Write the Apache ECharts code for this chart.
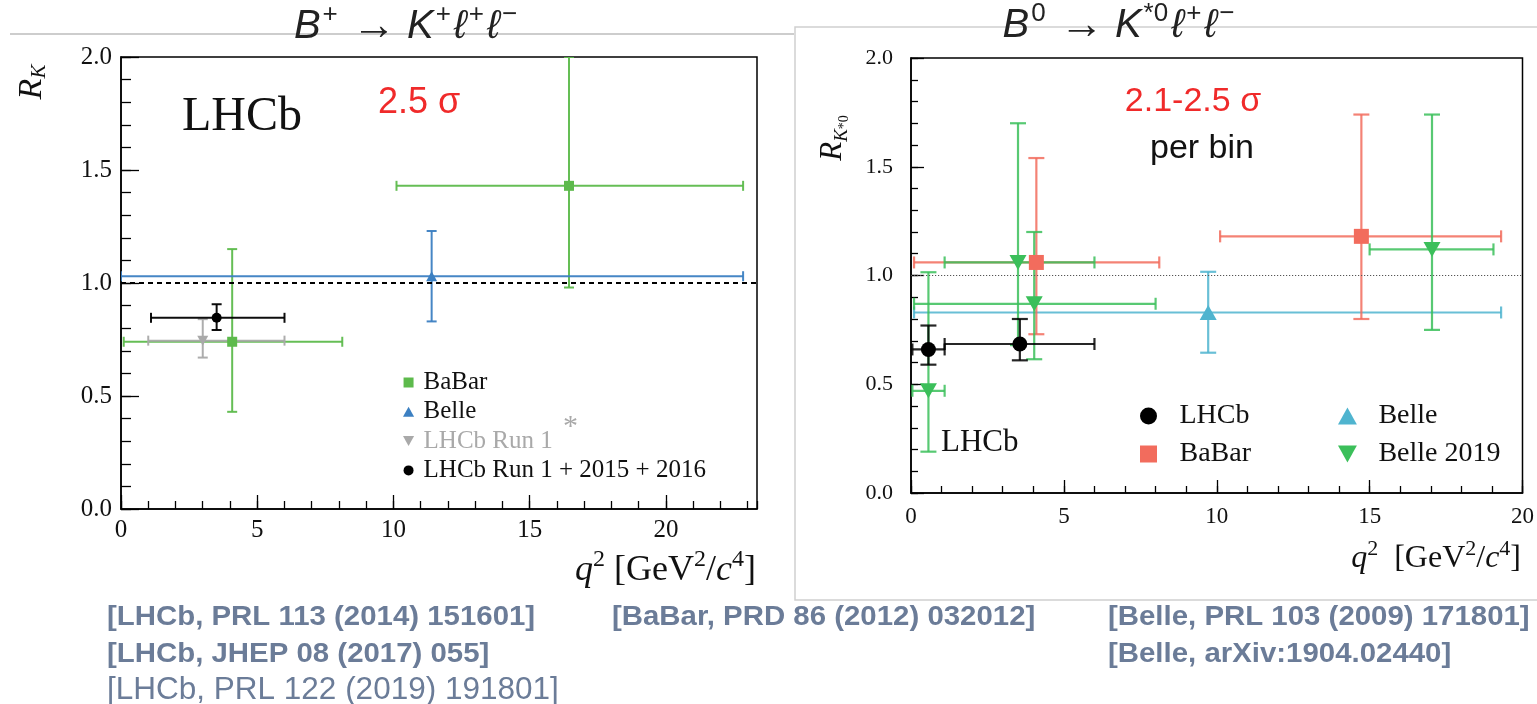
<!DOCTYPE html>
<html>
<head>
<meta charset="utf-8">
<script src="https://cdn.jsdelivr.net/npm/echarts@6/dist/echarts.min.js"></script>
<style>
  html, body { margin: 0; padding: 0; background: #ffffff; }
  #chart { width: 1537px; height: 704px; }
</style>
</head>
<body>
<div id="chart"></div>
<script>
// Each row: [q2, q2 low edge, q2 high edge, R, R lower bound, R upper bound]

// B+ -> K+ l+ l-  (R_K)
const rkBaBar   = [[4.08, 0.1, 8.12, 0.74, 0.43, 1.15], [16.44, 10.11, 22.83, 1.43, 0.98, 2.0]];
const rkBelle   = [[11.4, 0.0, 22.83, 1.03, 0.83, 1.23]];
const rkRun1    = [[3.0, 1.0, 6.0, 0.745, 0.67, 0.84]];
const rkRun1516 = [[3.51, 1.1, 6.0, 0.846, 0.792, 0.906]];

// B0 -> K*0 l+ l-  (R_K*0)
const rksLHCb      = [[0.57, 0.045, 1.1, 0.66, 0.59, 0.77], [3.56, 1.1, 6.0, 0.685, 0.61, 0.80]];
const rksBaBar     = [[4.1, 0.1, 8.12, 1.06, 0.73, 1.54], [14.73, 10.11, 19.3, 1.18, 0.80, 1.74]];
const rksBelle     = [[9.72, 0.1, 19.3, 0.83, 0.645, 1.017]];
const rksBelle2019 = [[0.57, 0.045, 1.1, 0.47, 0.19, 1.015], [3.5, 1.1, 6.0, 1.06, 0.68, 1.70],
                      [4.03, 0.1, 8.0, 0.87, 0.615, 1.20], [17.04, 15.0, 19.05, 1.12, 0.75, 1.74]];

// Axis ranges and tick labels
const rkQ2Max = 23.34;
const rksQ2Max = 20;
const ratioTicks = ['0.0', '0.5', '1.0', '1.5', '2.0'];
const q2Ticks = ['0', '5', '10', '15', '20'];

// Reference lines: text, x, y, weight, size, horizontal stretch
const references = [
  ['[LHCb, PRL 113 (2014) 151601]', 107, 617, 'bold', 28, 1.05],
  ['[LHCb, JHEP 08 (2017) 055]', 107, 654, 'bold', 28, 1.05],
  ['[LHCb, PRL 122 (2019) 191801]', 107, 690, 'normal', 31.5, 1],
  ['[BaBar, PRD 86 (2012) 032012]', 612, 617, 'bold', 28, 1.05],
  ['[Belle, PRL 103 (2009) 171801]', 1108, 617, 'bold', 28, 1.05],
  ['[Belle, arXiv:1904.02440]', 1108, 654, 'bold', 28, 1.05]
];

const SERIF = '"Liberation Serif", "DejaVu Serif", serif';
const SANS = '"Liberation Sans", "DejaVu Sans", sans-serif';
const squareSym = 'path://M0,0 L10,0 L10,10 L0,10 Z';
const upTri = 'path://M5,0 L10,9 L0,9 Z';
const downTri = 'path://M0,0 L10,0 L5,9 Z';

function errorBars(data, color, xi, yi, o) {
  return {
    type: 'custom', xAxisIndex: xi, yAxisIndex: yi, clip: true, silent: true,
    itemStyle: { color: color }, data: data, z: 2,
    encode: { x: [0, 1, 2], y: [3, 4, 5] },
    renderItem: function (params, api) {
      const q = api.value(0), r = api.value(3);
      const a = api.coord([api.value(1), r]), b = api.coord([api.value(2), r]);
      const lo = api.coord([q, api.value(4)]), hi = api.coord([q, api.value(5)]);
      const st = { stroke: color, lineWidth: o.w, opacity: o.op };
      const ln = (x1, y1, x2, y2) => ({ type: 'line', shape: { x1, y1, x2, y2 }, style: st });
      return {
        type: 'group', children: [
          ln(a[0], a[1], b[0], b[1]),
          ln(a[0], a[1] - o.capH, a[0], a[1] + o.capH),
          ln(b[0], b[1] - o.capH, b[0], b[1] + o.capH),
          ln(lo[0], lo[1], hi[0], hi[1]),
          ln(lo[0] - o.capV, lo[1], lo[0] + o.capV, lo[1]),
          ln(hi[0] - o.capV, hi[1], hi[0] + o.capV, hi[1])
        ]
      };
    }
  };
}

function markers(name, data, color, xi, yi, symbol, size) {
  return {
    type: 'scatter', name: name, xAxisIndex: xi, yAxisIndex: yi, silent: true, z: 3,
    symbol: symbol, symbolSize: size, itemStyle: { color: color, opacity: 1 },
    data: data.map(d => [d[0], d[3]])
  };
}

const leftBar = { w: 2, op: 0.95, capH: 5, capV: 5 };
const rightBar = { w: 2.2, op: 0.85, capH: 6, capV: 8 };

const C = {
  kBaBar: '#5dba4c', kBelle: '#3c80c2', kRun1: '#a9a9a9', kRun1516: '#000000',
  sLHCb: '#000000', sBaBar: '#f26c5d', sBelle: '#4fb4cf', sBelle19: '#3bbf5a'
};

function valueAxis(grid, min, max, interval, tickLen, showLabel, pos, labelOpt, labels) {
  return {
    type: 'value', gridIndex: grid, min: min, max: max, interval: interval, position: pos,
    axisLine: { show: showLabel, lineStyle: { color: '#000', width: 1.5 } },
    axisTick: { show: true, inside: true, length: tickLen, lineStyle: { color: '#000', width: 1.3 } },
    splitLine: { show: false },
    axisLabel: Object.assign({
      show: showLabel, showMaxLabel: max === rkQ2Max ? false : true, color: '#111',
      formatter: function (v) {
        const s = labels === ratioTicks ? v.toFixed(1) : String(Math.round(v));
        return labels.indexOf(s) >= 0 ? s : '';
      }
    }, labelOpt)
  };
}

const supTitle = {
  i: { fontFamily: SANS, fontStyle: 'italic', fontSize: 40, lineHeight: 50, fill: '#222' },
  n: { fontFamily: SANS, fontSize: 40, lineHeight: 50, fill: '#222' },
  a: { fontFamily: SANS, fontSize: 44, lineHeight: 50, fill: '#222' },
  s: { fontFamily: SANS, fontSize: 26, lineHeight: 29, verticalAlign: 'top', fill: '#222', padding: [0, 3, 0, 2] }
};
function q2Rich(size) {
  const s = Math.round(size * 0.68);
  return {
    i: { fontFamily: SERIF, fontStyle: 'italic', fontSize: size, lineHeight: size + 10, fill: '#111' },
    n: { fontFamily: SERIF, fontSize: size, lineHeight: size + 10, fill: '#111' },
    s: { fontFamily: SERIF, fontSize: s, lineHeight: s + 4, verticalAlign: 'top', fill: '#111' }
  };
}

const graphics = [
  // panel frames
  { type: 'line', shape: { x1: 10, y1: 34, x2: 794, y2: 34 }, style: { stroke: '#bdbdbd', lineWidth: 1.5 }, z: -5 },
  { type: 'rect', shape: { x: 795, y: 27, width: 760, height: 573 }, style: { fill: 'none', stroke: '#d0d0d0', lineWidth: 1.5 }, z: -5 },
  // titles
  { type: 'text', x: 407, y: 27, style: { text: '{i|B}{s|+}{n| }{a|→}{n| }{i|K}{s|+}{i|ℓ}{s|+}{i|ℓ}{s|−}', rich: supTitle, align: 'center', verticalAlign: 'middle' } },
  { type: 'text', x: 1120, y: 26, style: { text: '{i|B}{s|0}{n| }{a|→}{n| }{i|K}{s|*0}{i|ℓ}{s|+}{i|ℓ}{s|−}', rich: supTitle, align: 'center', verticalAlign: 'middle' } },
  // y-axis names
  { type: 'text', x: 32, y: 82, rotation: Math.PI / 2, style: {
      text: '{r|R}{k|K}', align: 'center', verticalAlign: 'middle',
      rich: { r: { fontFamily: SERIF, fontStyle: 'italic', fontSize: 34, lineHeight: 36, fill: '#111' },
              k: { fontFamily: SERIF, fontStyle: 'italic', fontSize: 21, lineHeight: 21, verticalAlign: 'bottom', fill: '#111' } } } },
  { type: 'text', x: 833, y: 138, rotation: Math.PI / 2, style: {
      text: '{r|R}{k|K}{p|*0}', align: 'center', verticalAlign: 'middle',
      rich: { r: { fontFamily: SERIF, fontStyle: 'italic', fontSize: 31, lineHeight: 36, fill: '#111' },
              k: { fontFamily: SERIF, fontStyle: 'italic', fontSize: 19, lineHeight: 16, verticalAlign: 'bottom', fill: '#111' },
              p: { fontFamily: SERIF, fontSize: 14, lineHeight: 24, verticalAlign: 'bottom', fill: '#111' } } } },
  // x-axis names
  { type: 'text', x: 756, y: 571, style: { text: '{i|q}{s|2}{n| [GeV}{s|2}{n|/}{i|c}{s|4}{n|]}', rich: q2Rich(36), align: 'right', verticalAlign: 'middle' } },
  { type: 'text', x: 1521, y: 559, style: { text: '{i|q}{s|2}{n|  [GeV}{s|2}{n|/}{i|c}{s|4}{n|]}', rich: q2Rich(32), align: 'right', verticalAlign: 'middle' } },
  // annotations
  { type: 'text', x: 182, y: 117, style: { text: 'LHCb', font: '48px ' + SERIF, fill: '#111', verticalAlign: 'middle' } },
  { type: 'text', x: 378, y: 103, style: { text: '2.5 σ', font: '36px ' + SANS, fill: '#f02a2a', verticalAlign: 'middle' } },
  { type: 'text', x: 1193, y: 102, style: { text: '2.1-2.5 σ', font: '34px ' + SANS, fill: '#f02a2a', align: 'center', verticalAlign: 'middle' } },
  { type: 'text', x: 1202, y: 149, style: { text: 'per bin', font: '34px ' + SANS, fill: '#111', align: 'center', verticalAlign: 'middle' } },
  { type: 'text', x: 941, y: 443, style: { text: 'LHCb', font: '31px ' + SERIF, fill: '#111', verticalAlign: 'middle' } },
  { type: 'text', x: 563, y: 427, style: { text: '*', font: '30px ' + SERIF, fill: '#a9a9a9', verticalAlign: 'middle' } }
].concat(references.map(r => ({
  type: 'text', x: r[1], y: r[2], scaleX: r[5], scaleY: 1,
  style: { text: r[0], font: r[3] + ' ' + r[4] + 'px ' + SANS, fill: '#6b7c98', verticalAlign: 'middle' }
})));

const option = {
  animation: false,
  backgroundColor: 'transparent',
  grid: [
    { left: 121, top: 57, width: 636, height: 452, show: true, borderColor: '#000', borderWidth: 1.5, backgroundColor: 'transparent' },
    { left: 911, top: 58, width: 612, height: 435, show: true, borderColor: '#000', borderWidth: 1.5, backgroundColor: 'transparent' }
  ],
  xAxis: [
    valueAxis(0, 0, rkQ2Max, 5, 14, true, 'bottom', { fontFamily: SERIF, fontSize: 25, margin: 9 }, q2Ticks),
    valueAxis(0, 0, rkQ2Max, 1, 8, false, 'bottom', {}, q2Ticks),
    valueAxis(1, 0, rksQ2Max, 5, 13, true, 'bottom', { fontFamily: SERIF, fontSize: 23, margin: 12 }, q2Ticks),
    valueAxis(1, 0, rksQ2Max, 1, 7, false, 'bottom', {}, q2Ticks)
  ],
  yAxis: [
    valueAxis(0, 0, 2, 0.5, 18, true, 'left', { fontFamily: SERIF, fontSize: 25, margin: 9 }, ratioTicks),
    valueAxis(0, 0, 2, 0.1, 10, false, 'left', {}, ratioTicks),
    valueAxis(1, 0, 2, 0.5, 13, true, 'left', { fontFamily: SERIF, fontSize: 22, margin: 18 }, ratioTicks),
    valueAxis(1, 0, 2, 0.1, 7, false, 'left', {}, ratioTicks)
  ],
  legend: [
    { orient: 'vertical', left: 398, top: 365, itemWidth: 20, itemHeight: 10, itemGap: 4.3, selectedMode: false,
      textStyle: { fontFamily: SERIF, fontSize: 25, color: '#111' },
      data: [{ name: 'BaBar' }, { name: 'Belle' },
             { name: 'LHCb Run 1', textStyle: { color: '#a9a9a9' } },
             { name: 'LHCb Run 1 + 2015 + 2016' }] },
    { orient: 'vertical', left: 1135, top: 397, itemWidth: 52, itemHeight: 17, itemGap: 10, selectedMode: false,
      textStyle: { fontFamily: SERIF, fontSize: 28, color: '#111' },
      data: [{ name: 'LHCb' }, { name: 'BaBar ' }] },
    { orient: 'vertical', left: 1333, top: 397, itemWidth: 52, itemHeight: 17, itemGap: 10, selectedMode: false,
      textStyle: { fontFamily: SERIF, fontSize: 28, color: '#111' },
      data: [{ name: 'Belle ' }, { name: 'Belle 2019' }] }
  ],
  graphic: { elements: graphics },
  series: [
    // reference lines at R = 1
    { type: 'line', xAxisIndex: 0, yAxisIndex: 0, data: [], silent: true, z: 1,
      markLine: { silent: true, symbol: 'none', label: { show: false },
        lineStyle: { color: '#000', type: [5, 4], width: 2 }, data: [{ yAxis: 1 }] } },
    { type: 'line', xAxisIndex: 2, yAxisIndex: 2, data: [], silent: true, z: 1,
      markLine: { silent: true, symbol: 'none', label: { show: false },
        lineStyle: { color: '#555', type: [1.2, 1.8], width: 1 }, data: [{ yAxis: 1 }] } },

    errorBars(rkBaBar, C.kBaBar, 0, 0, leftBar),
    errorBars(rkBelle, C.kBelle, 0, 0, leftBar),
    errorBars(rkRun1, C.kRun1, 0, 0, leftBar),
    errorBars(rkRun1516, C.kRun1516, 0, 0, leftBar),
    markers('BaBar', rkBaBar, C.kBaBar, 0, 0, squareSym, 10),
    markers('Belle', rkBelle, C.kBelle, 0, 0, upTri, [11, 10]),
    markers('LHCb Run 1', rkRun1, C.kRun1, 0, 0, downTri, [11, 10]),
    markers('LHCb Run 1 + 2015 + 2016', rkRun1516, C.kRun1516, 0, 0, 'circle', 10),

    errorBars(rksBelle, C.sBelle, 2, 2, rightBar),
    errorBars(rksBaBar, C.sBaBar, 2, 2, rightBar),
    errorBars(rksBelle2019, C.sBelle19, 2, 2, rightBar),
    errorBars(rksLHCb, C.sLHCb, 2, 2, rightBar),
    markers('Belle ', rksBelle, C.sBelle, 2, 2, upTri, [17, 15]),
    markers('BaBar ', rksBaBar, C.sBaBar, 2, 2, squareSym, 15),
    markers('Belle 2019', rksBelle2019, C.sBelle19, 2, 2, downTri, [17, 15]),
    markers('LHCb', rksLHCb, C.sLHCb, 2, 2, 'circle', 15)
  ]
};

const chart = echarts.init(document.getElementById('chart'), null, { renderer: 'canvas' });
chart.setOption(option);
</script>
</body>
</html>
